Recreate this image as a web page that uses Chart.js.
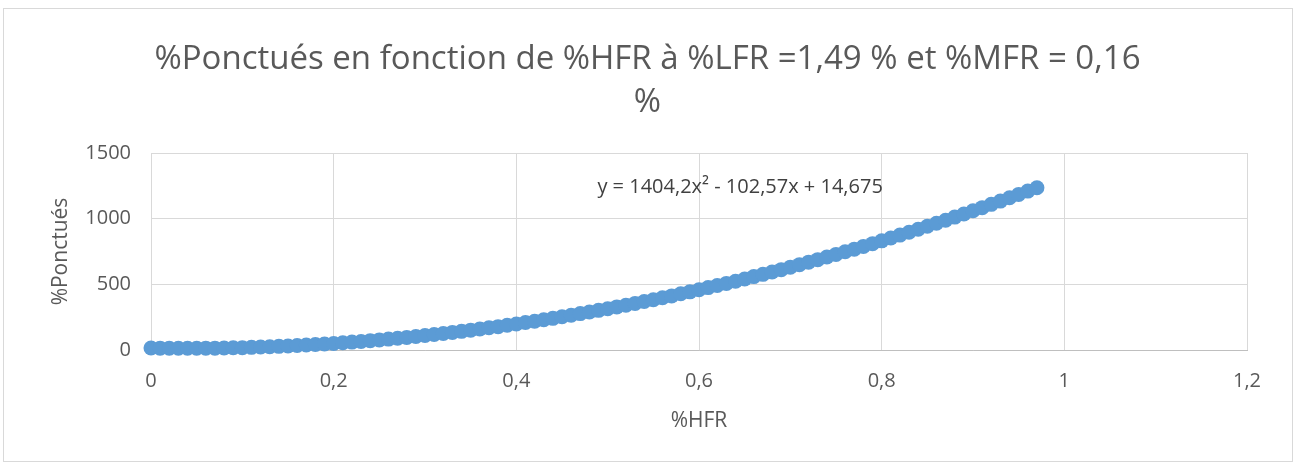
<!DOCTYPE html>
<html>
<head>
<meta charset="utf-8">
<script src="https://cdn.jsdelivr.net/npm/chart.js@4/dist/chart.umd.min.js"></script>
<style>
  html, body { margin: 0; padding: 0; background: #fff; }
  #wrap { position: absolute; left: 0; top: 0; width: 1295px; height: 465px; }
</style>
</head>
<body>
<div id="wrap"><canvas id="chart" width="1295" height="465"></canvas></div>
<script>
// %HFR values (x) and %Ponctués values (y)
const hfr = [
  0, 0.01, 0.02, 0.03, 0.04, 0.05, 0.06, 0.07, 0.08, 0.09,
  0.10, 0.11, 0.12, 0.13, 0.14, 0.15, 0.16, 0.17, 0.18, 0.19,
  0.20, 0.21, 0.22, 0.23, 0.24, 0.25, 0.26, 0.27, 0.28, 0.29,
  0.30, 0.31, 0.32, 0.33, 0.34, 0.35, 0.36, 0.37, 0.38, 0.39,
  0.40, 0.41, 0.42, 0.43, 0.44, 0.45, 0.46, 0.47, 0.48, 0.49,
  0.50, 0.51, 0.52, 0.53, 0.54, 0.55, 0.56, 0.57, 0.58, 0.59,
  0.60, 0.61, 0.62, 0.63, 0.64, 0.65, 0.66, 0.67, 0.68, 0.69,
  0.70, 0.71, 0.72, 0.73, 0.74, 0.75, 0.76, 0.77, 0.78, 0.79,
  0.80, 0.81, 0.82, 0.83, 0.84, 0.85, 0.86, 0.87, 0.88, 0.89,
  0.90, 0.91, 0.92, 0.93, 0.94, 0.95, 0.96, 0.97
];
const ponctues = [
  15, 14, 13, 13, 13, 13, 14, 14, 15, 17,
  18, 20, 23, 25, 28, 31, 34, 38, 42, 46,
  50, 55, 60, 65, 71, 77, 83, 89, 96, 103,
  110, 118, 126, 134, 142, 151, 160, 169, 178, 188,
  198, 209, 219, 230, 241, 253, 265, 277, 289, 302,
  314, 328, 341, 355, 369, 383, 398, 412, 428, 443,
  459, 475, 491, 507, 524, 541, 559, 576, 594, 612,
  631, 650, 669, 688, 708, 728, 748, 768, 789, 810,
  831, 853, 875, 897, 919, 942, 965, 988, 1012, 1036,
  1060, 1084, 1109, 1134, 1159, 1185, 1210, 1236
];
const xTicks = [0, 0.2, 0.4, 0.6, 0.8, 1, 1.2];
const yTicks = [0, 500, 1000, 1500];
const titleLines = ['%Ponctués en fonction de %HFR à %LFR =1,49 % et %MFR = 0,16', '%'];
const equation = 'y = 1404,2x² - 102,57x + 14,675';

const txt = '#595959';
const gridCol = '#d9d9d9';
const font = "'Open Sans', 'Noto Sans', sans-serif";

const frame = {
  id: 'frame',
  beforeDraw(chart) {
    const c = chart.ctx;
    c.save();
    c.fillStyle = '#fff';
    c.fillRect(0, 0, chart.width, chart.height);
    c.strokeStyle = '#d9d9d9';
    c.lineWidth = 1;
    c.strokeRect(3.5, 8.5, 1289, 453);
    c.restore();
  },
  afterDatasetsDraw(chart) {
    // trendline equation label
    const c = chart.ctx;
    const x = chart.scales.x.getPixelForValue(0.645);
    const y = chart.scales.y.getPixelForValue(1240);
    c.save();
    c.fillStyle = '#404040';
    c.font = "20px " + font;
    c.textAlign = 'center';
    c.textBaseline = 'middle';
    c.fillText(equation, x, y);
    c.restore();
  }
};

new Chart(document.getElementById('chart'), {
  type: 'scatter',
  data: {
    datasets: [{
      label: '%Ponctués',
      data: hfr.map((v, i) => ({ x: v, y: ponctues[i] })),
      backgroundColor: '#5b9bd5',
      borderColor: '#5b9bd5',
      pointRadius: 7.5,
      pointHoverRadius: 7.5,
      borderWidth: 0,
      clip: false
    }]
  },
  options: {
    responsive: false,
    animation: false,
    layout: { padding: { left: 48, right: 48, top: 0, bottom: 0 } },
    plugins: {
      legend: { display: false },
      tooltip: { enabled: false },
      title: {
        display: true,
        text: titleLines,
        color: txt,
        font: { family: font, size: 33, weight: 'normal', lineHeight: 1.32 },
        padding: { top: 37.5, bottom: 28.4 }
      }
    },
    scales: {
      x: {
        type: 'linear',
        min: 0, max: 1.2,
        afterBuildTicks: s => { s.ticks = xTicks.map(v => ({ value: v })); },
        afterFit: s => { s.height = 115; },
        ticks: {
          color: txt, padding: 19,
          font: { family: font, size: 20 },
          callback: v => String(Math.round(v * 10) / 10).replace('.', ',')
        },
        grid: { color: gridCol, drawTicks: false },
        border: { color: '#bfbfbf' },
        title: {
          display: true, text: '%HFR', color: txt,
          font: { family: font, size: 21 },
          padding: { top: 0, bottom: 31 }
        }
      },
      y: {
        min: 0, max: 1500,
        afterBuildTicks: s => { s.ticks = yTicks.map(v => ({ value: v })); },
        afterFit: s => { s.width = 103; },
        ticks: {
          color: txt, padding: 20,
          font: { family: font, size: 20 },
          callback: v => String(v)
        },
        grid: { color: gridCol, drawTicks: false },
        border: { display: false },
        title: {
          display: true, text: '%Ponctués', color: txt,
          font: { family: font, size: 21 },
          padding: { top: 0, bottom: 0 }
        }
      }
    }
  },
  plugins: [frame]
});
</script>
</body>
</html>
